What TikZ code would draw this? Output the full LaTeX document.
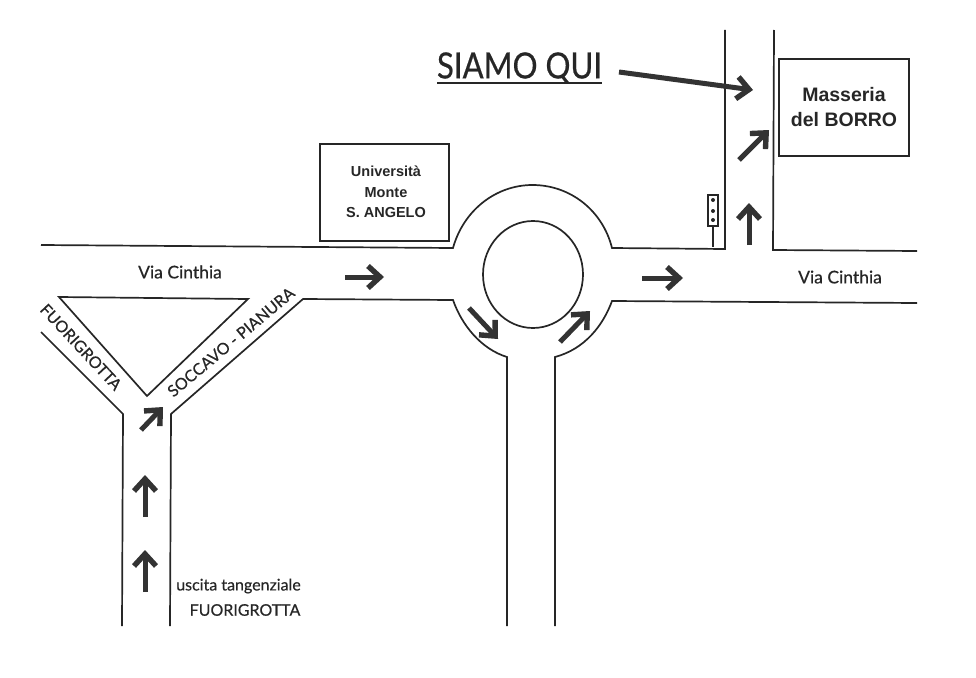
\documentclass[tikz,border=0pt]{standalone}
\usepackage{fontspec}
\setmainfont[FakeBold=0.5]{Lato}
\newfontfamily\capfont[FakeBold=0.6]{Lato}
\newfontfamily\boxfont{Liberation Sans}
\usetikzlibrary{arrows.meta}

\begin{document}
\begin{tikzpicture}[x=1pt,y=-1pt]
\tikzstyle{road}=[draw=black!85,line width=1.7pt,line join=miter]
\tikzstyle{bldg}=[draw=black!85,line width=1.7pt,minimum width=129pt,minimum height=97pt,align=center,inner sep=0pt]
\tikzstyle{dir}=[draw=black!80,line width=5pt,-{Straight Barb[length=12pt,width=22pt,line width=5.4pt]}]
\tikzstyle{lab}=[font=\fontsize{17.5}{19}\selectfont,text=black!85,inner sep=0pt]
\tikzstyle{caps}=[font=\fontsize{16}{19}\selectfont,text=black!85,inner sep=0pt]
	\useasboundingbox (0,0) rectangle (976,677);
	% roads, north side
	\draw[road] (41,245) -- (453,248) .. controls (463.3,210.7) and (495.5,185) .. (532.5,185)
		.. controls (570.5,185) and (602.7,210.7) .. (612,248) -- (725,249) -- (725,30);
	\draw[road] (774,30) -- (773,250) -- (917,251);
	% roads, south side
	\draw[road] (917,303) -- (612,301) .. controls (603.1,325.4) and (584.7,349.1) .. (555,357) -- (555,626);
	\draw[road] (507,626) -- (507,357) .. controls (481.3,349.1) and (461.9,325.4) .. (453,300)
		-- (303,299) -- (171,414) -- (170,626);
	\draw[road] (41,332) -- (123,414) -- (122,626);
	\draw[road] (59,297) -- (248,299) -- (147,396) -- cycle;
	\draw[road] (533,274.5) ellipse [x radius=50,y radius=53.5];
	% buildings
	\node[bldg] (uni) at (384.5,192.5) {};
	\node[bldg,minimum height=97pt,minimum width=130pt] (borro) at (844,107.5) {};
	\node[font=\boxfont\bfseries\fontsize{14.5}{20.5}\selectfont,text=black!85,align=center,inner sep=0pt] (unilab) at (386,192) {Università\\Monte\\S. ANGELO};
	\node[font=\boxfont\bfseries\fontsize{19.5}{25}\selectfont,text=black!85,align=center,inner sep=0pt] (borrolab) at (844,107) {Masseria\\del BORRO};
	% traffic light
	\node[draw=black!85,line width=1.3pt,minimum width=10pt,minimum height=31pt,inner sep=0pt] (lamp) at (713,210.5) {};
	\coordinate (lampfoot) at (713,247);
	\draw[black!85,line width=1.3pt] (lamp.south) -- (lampfoot);
	\foreach \y in {200,211,220}
		\fill[black!85] (713,\y) circle (2);
	% here we are
	\node[font=\capfont\fontsize{36}{38}\selectfont,text=black!85,inner sep=0pt,xscale=0.865] (siamo) at (519.5,68) {SIAMO QUI};
	\coordinate (siamoa) at (437,83);
	\coordinate (siamob) at (602,83);
	\draw[black!85,line width=1.8pt] (siamoa) -- (siamob);
	\coordinate (qui0) at (619,72);
	\coordinate (qui1) at (753,90);
	\draw[dir] (qui0) -- (qui1);
	% driving directions
	\draw[dir] (345,277) -- (384,277);
	\draw[dir] (642,278) -- (683,278);
	\draw[dir] (749,245) -- (749,203);
	\draw[dir] (739,160) -- (769,130);
	\draw[dir] (469,308) -- (498,339);
	\draw[dir] (560,342) -- (590,311);
	\draw[dir] (141,430) -- (163,407);
	\draw[dir] (145,517) -- (145,475);
	\draw[dir] (145,592) -- (145,550);
	% labels
	\node[lab] (via1) at (180,272) {Via Cinthia};
	\node[lab] (via2) at (840,277) {Via Cinthia};
	\node[caps,rotate=-47] (fuori) at (81,347) {FUORIGROTTA};
	\node[caps,rotate=40] (soccavo) at (231,342) {SOCCAVO - PIANURA};
	\node[caps] (uscita) at (238.5,586) {uscita tangenziale};
	\node[caps] (fuori2) at (245,610) {FUORIGROTTA};
\end{tikzpicture}
\end{document}
